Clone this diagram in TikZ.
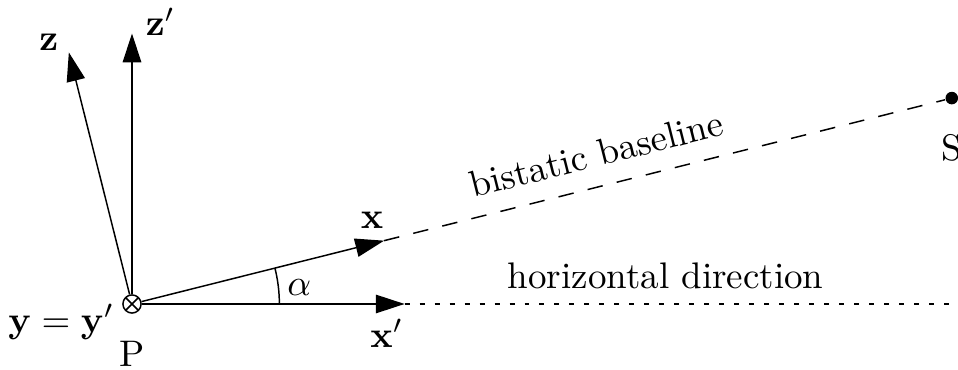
\documentclass[tikz,border=0pt]{standalone}
\usepackage{amsmath,amssymb}
\usepackage{tikz}
\usetikzlibrary{arrows.meta,positioning}
\tikzset{
  vec/.style={-{Triangle[length=7.8pt,width=5pt]}},
  crossdot/.style={circle, draw, minimum size=4.9pt, inner sep=0pt,
    path picture={\draw (path picture bounding box.north west) -- (path picture bounding box.south east)
      (path picture bounding box.south west) -- (path picture bounding box.north east);}},
  sitedot/.style={circle, fill, minimum size=3.4pt, inner sep=0pt},
  dashline/.style={dash pattern=on 4.2pt off 3.9pt},
  dotline/.style={dash pattern=on 1.35pt off 2.7pt}
}

\begin{document}
\begin{tikzpicture}
  \useasboundingbox (-1.254,-0.618) rectangle (7.847,2.888);
  \node[crossdot] (P) at (0,0) {};
  \node[sitedot] (S) at (14.1:8.03) {};
  \coordinate (zt) at (-0.60,2.39);
  \coordinate (zpt) at (0,2.57);
  \coordinate (xt) at (14.1:2.47);
  \coordinate (xpt) at (2.59,0);
  \coordinate (hend) at (7.85,0);

  \draw[vec] (P) -- (zt);
  \draw[vec] (P) -- (zpt);
  \draw[vec] (P) -- (xt);
  \draw[vec] (P) -- (xpt);
  \draw[dashline] (xt) -- (S);
  \draw[dotline] (xpt) -- (hend);
  \draw ([shift={(0:1.4)}]P.center) arc[start angle=0, end angle=14.1, radius=1.4];

  \node[anchor=base] (zl) at (-0.79,2.41) {$\mathbf{z}$};
  \node[anchor=base] (zpl) at (0.27,2.55) {$\mathbf{z}'$};
  \node[anchor=base] (xl) at (2.28,0.72) {$\mathbf{x}$};
  \node[anchor=base] (xpl) at (2.42,-0.41) {$\mathbf{x}'$};
  \node[anchor=base] (al) at (1.59,0.085) {$\alpha$};
  \node[anchor=base east] (yl) at (-0.045,-0.27) {$\mathbf{y}=\mathbf{y}'$};
  \node[below=0.14cm of P] (pl) {P};
  \node[below=0.15cm of S] (sl) {S};
  \node[anchor=base] (hl) at (5.07,0.15) {horizontal direction};
  \node[anchor=base, rotate=14.1] (bl) at (4.44,1.31) {bistatic baseline};
\end{tikzpicture}
\end{document}
